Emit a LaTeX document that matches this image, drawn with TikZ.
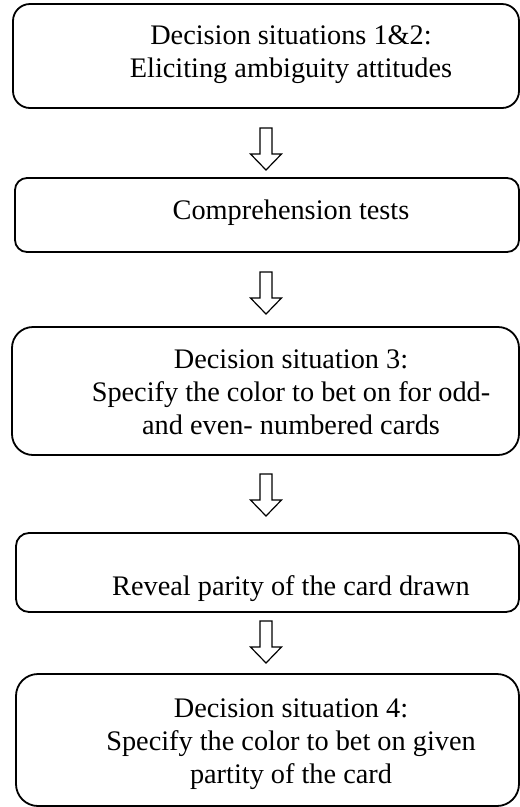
\documentclass[tikz,border=0pt]{standalone}
\usepackage{fontspec}
\setmainfont{Liberation Serif}
\tikzset{
  stagebox/.style={draw, line width=1.8pt, rounded corners=#1, inner sep=0pt},
  stagetext/.style={font=\fontsize{28.3}{33}\selectfont, align=center, inner sep=0pt, anchor=base},
  blockarrow/.style={draw, line width=1.2pt, line join=miter, fill=white},
  hollowarrow/.pic={\draw[blockarrow] (-6,0) -- (6,0) -- (6,26) -- (15.5,26) -- (0,42) -- (-15.5,26) -- (-6,26) -- cycle;}
}
\begin{document}
\begin{tikzpicture}[x=1pt,y=-1pt]
\useasboundingbox (0,0) rectangle (520,807);
% boxes
\node[stagebox=17pt, minimum width=506pt, minimum height=104pt] (b1) at (266,56) {};
\node[stagebox=12pt, minimum width=504pt, minimum height=74pt] (b2) at (267,215) {};
\node[stagebox=21pt, minimum width=507pt, minimum height=128pt] (b3) at (265.5,391) {};
\node[stagebox=13pt, minimum width=503pt, minimum height=79pt] (b4) at (267.5,572.5) {};
\node[stagebox=22pt, minimum width=503pt, minimum height=132pt] (b5) at (267.5,740) {};
% texts (base anchor = baseline of the last line)
\node[stagetext] (t1) at (291,77) {Decision situations 1\&2:\\Eliciting ambiguity attitudes};
\node[stagetext] (t2) at (291,219) {Comprehension tests};
\node[stagetext] (t3) at (291,434) {Decision situation 3:\\Specify the color to bet on for odd-\\and even- numbered cards};
\node[stagetext] (t4) at (291,595) {Reveal parity of the card drawn};
\node[stagetext] (t5) at (291,783) {Decision situation 4:\\Specify the color to bet on given\\partity of the card};
% arrows
\coordinate (a1) at (266,128);
\coordinate (a2) at (266,272);
\coordinate (a3) at (266,474);
\coordinate (a4) at (266,621);
\pic at (a1) {hollowarrow};
\pic at (a2) {hollowarrow};
\pic at (a3) {hollowarrow};
\pic at (a4) {hollowarrow};
\end{tikzpicture}
\end{document}
